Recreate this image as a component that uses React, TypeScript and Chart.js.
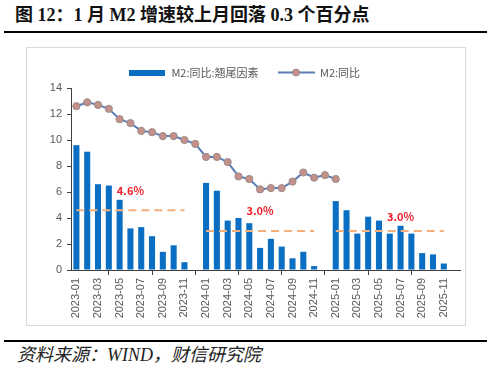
import React, { useEffect, useRef } from 'react';
import { Chart, registerables } from 'chart.js';

Chart.register(...registerables);

// ---------- data ----------
const categories = [
  '2023-01', '2023-02', '2023-03', '2023-04', '2023-05', '2023-06',
  '2023-07', '2023-08', '2023-09', '2023-10', '2023-11', '2023-12',
  '2024-01', '2024-02', '2024-03', '2024-04', '2024-05', '2024-06',
  '2024-07', '2024-08', '2024-09', '2024-10', '2024-11', '2024-12',
  '2025-01', '2025-02', '2025-03', '2025-04', '2025-05', '2025-06',
  '2025-07', '2025-08', '2025-09', '2025-10', '2025-11', '2025-12',
];

// M2:同比:翘尾因素 (bars)
const tailFactor = [
  9.6, 9.1, 6.6, 6.5, 5.4, 3.2, 3.3, 2.6, 1.4, 1.9, 0.6, null,
  6.7, 6.1, 3.8, 4.0, 3.6, 1.7, 2.4, 1.8, 0.9, 1.4, 0.3, null,
  5.3, 4.6, 2.8, 4.1, 3.8, 2.8, 3.4, 2.8, 1.3, 1.2, 0.5, null,
];

// M2:同比 (line)
const m2Yoy = [
  12.6, 12.9, 12.7, 12.4, 11.6, 11.3, 10.7, 10.6, 10.3, 10.3, 10.0, 9.7,
  8.7, 8.7, 8.3, 7.2, 7.0, 6.2, 6.3, 6.3, 6.8, 7.5, 7.1, 7.3,
  7.0, null, null, null, null, null, null, null, null, null, null, null,
];

// yearly averages of the tail factor (dashed lines)
const avgValues = [4.6, 3.0, 3.0];
const avgStart = [0, 12, 24];
const avgEnd = [10, 22, 34];
const avgLabels = ['4.6%', '3.0%', '3.0%'];
const avgLabelAt = [5, 17, 30];
const avgLabelLevel = [6.1, 4.55, 4.1];

const legendNames = ['M2:同比:翘尾因素', 'M2:同比'];

// ---------- styles ----------
const BAR = '#0A6FC2';
const LINE = '#5A7DB6';
const MARKER = '#C39189';
const MARKER_BORDER = '#9B8A88';
const DASH = '#F4B07C';
const LABEL_RED = '#F0202A';
const AXIS = '#404040';
const TEXT = '#595959';
const TICK_FONT = '"Liberation Sans", Arial, sans-serif';
const CJK_FONT = '"Noto Sans CJK SC", "Liberation Sans", sans-serif';

const avgLine = categories.map((_, i) => {
  for (let k = 0; k < avgValues.length; k++) {
    if (i >= avgStart[k] && i <= avgEnd[k]) return avgValues[k];
  }
  return null;
});

function makeBarIcon() {
  const c = document.createElement('canvas');
  c.width = 36;
  c.height = 6;
  const g = c.getContext('2d')!;
  g.fillStyle = BAR;
  g.fillRect(0, 0, 36, 6);
  return c;
}

function makeLineIcon() {
  const c = document.createElement('canvas');
  c.width = 37;
  c.height = 9;
  const g = c.getContext('2d')!;
  g.strokeStyle = LINE;
  g.lineWidth = 2;
  g.beginPath();
  g.moveTo(0, 4.5);
  g.lineTo(37, 4.5);
  g.stroke();
  g.beginPath();
  g.arc(18.5, 4.5, 3.5, 0, Math.PI * 2);
  g.fillStyle = MARKER;
  g.fill();
  g.lineWidth = 1;
  g.strokeStyle = MARKER_BORDER;
  g.stroke();
  return c;
}

const avgLabelPlugin = {
  id: 'avgLabels',
  afterDatasetsDraw(chart: any) {
    const { ctx, scales } = chart;
    ctx.save();
    ctx.font = 'bold 11px ' + CJK_FONT;
    ctx.fillStyle = LABEL_RED;
    ctx.textAlign = 'center';
    ctx.textBaseline = 'middle';
    avgLabels.forEach((t, k) => {
      const x = scales.x.getPixelForValue(avgLabelAt[k]);
      const y = scales.y.getPixelForValue(avgLabelLevel[k]);
      ctx.fillText(t, x, y);
    });
    ctx.restore();
  },
};

export default function App() {
  const ref = useRef<HTMLCanvasElement | null>(null);

  useEffect(() => {
    if (!ref.current) return;
    const barIcon = makeBarIcon();
    const lineIcon = makeLineIcon();
    const chart = new Chart(ref.current, {
      type: 'bar',
      data: {
        labels: categories,
        datasets: [
          {
            type: 'bar',
            label: legendNames[0],
            data: tailFactor,
            backgroundColor: BAR,
            categoryPercentage: 1,
            barPercentage: 0.56,
            order: 3,
          },
          {
            type: 'line',
            label: 'avg',
            data: avgLine,
            borderColor: DASH,
            borderWidth: 2,
            borderDash: [8, 5],
            pointRadius: 0,
            spanGaps: false,
            order: 2,
          },
          {
            type: 'line',
            label: legendNames[1],
            data: m2Yoy,
            borderColor: LINE,
            borderWidth: 2,
            pointRadius: 3.6,
            pointBackgroundColor: MARKER,
            pointBorderColor: MARKER_BORDER,
            pointBorderWidth: 1,
            spanGaps: false,
            order: 1,
          },
        ] as any,
      },
      options: {
        animation: false,
        responsive: true,
        maintainAspectRatio: false,
        layout: { padding: { left: 0, right: 3, top: 0, bottom: 0 } },
        plugins: {
          tooltip: { enabled: false },
          legend: {
            display: true,
            position: 'top',
            labels: {
              usePointStyle: true,
              pointStyleWidth: 37,
              boxHeight: 9,
              padding: 19,
              color: TEXT,
              font: { size: 11, family: CJK_FONT },
              generateLabels: () => [
                {
                  text: legendNames[0],
                  pointStyle: barIcon as any,
                  fillStyle: BAR,
                  strokeStyle: BAR,
                  lineWidth: 0,
                  hidden: false,
                  datasetIndex: 0,
                  fontColor: TEXT,
                },
                {
                  text: legendNames[1],
                  pointStyle: lineIcon as any,
                  fillStyle: MARKER,
                  strokeStyle: LINE,
                  lineWidth: 0,
                  hidden: false,
                  datasetIndex: 2,
                  fontColor: TEXT,
                },
              ],
            },
          },
        },
        scales: {
          x: {
            offset: true,
            grid: {
              display: true,
              drawOnChartArea: false,
              drawTicks: true,
              tickLength: 5,
              offset: true,
              color: (c: any) => (c.index % 2 === 0 ? AXIS : 'rgba(0,0,0,0)'),
              tickColor: (c: any) => (c.index % 2 === 0 ? AXIS : 'rgba(0,0,0,0)'),
            },
            border: { display: true, color: AXIS, width: 1 },
            ticks: {
              autoSkip: false,
              minRotation: 90,
              maxRotation: 90,
              padding: 3,
              color: TEXT,
              font: { size: 11, family: TICK_FONT },
              callback: (_v: any, i: number) => (i % 2 === 0 ? categories[i] : null),
            },
            afterFit: (s: any) => {
              s.height = 55;
            },
          },
          y: {
            min: 0,
            max: 14,
            grid: {
              display: true,
              drawOnChartArea: false,
              drawTicks: true,
              tickLength: 4,
              color: AXIS,
            },
            border: { display: true, color: AXIS, width: 1 },
            ticks: {
              stepSize: 2,
              padding: 5,
              color: TEXT,
              font: { size: 11, family: TICK_FONT },
            },
            afterFit: (s: any) => {
              s.width = 44;
            },
          },
        },
      } as any,
      plugins: [avgLabelPlugin],
    });
    return () => chart.destroy();
  }, []);

  return (
    <div
      style={{
        position: 'absolute',
        left: 0,
        top: 0,
        width: 500,
        height: 375,
        background: '#fff',
        overflow: 'hidden',
      }}
    >
      <div
        style={{
          position: 'absolute',
          left: 15,
          top: 5,
          fontFamily: '"Liberation Serif", "Noto Sans CJK SC", serif',
          fontWeight: 'bold',
          fontSize: 18,
          lineHeight: '20px',
          color: '#111',
          whiteSpace: 'nowrap',
        }}
      >
        图 12：1 月 M2 增速较上月回落 0.3 个百分点
      </div>
      <div
        style={{
          position: 'absolute',
          left: 4,
          top: 31,
          width: 483,
          height: 2,
          background: '#000',
        }}
      />
      <div
        style={{
          position: 'absolute',
          left: 26,
          top: 47,
          width: 438,
          height: 277,
          border: '1px solid #D9D9D9',
        }}
      >
        <canvas ref={ref} />
      </div>
      <div
        style={{
          position: 'absolute',
          left: 4,
          top: 340,
          width: 483,
          height: 2,
          background: '#000',
        }}
      />
      <div
        style={{
          position: 'absolute',
          left: 17,
          top: 345,
          fontFamily: '"Liberation Serif", "Noto Sans CJK SC", serif',
          fontStyle: 'italic',
          fontSize: 18,
          lineHeight: '20px',
          color: '#222',
          whiteSpace: 'nowrap',
        }}
      >
        资料来源：WIND，财信研究院
      </div>
    </div>
  );
}
